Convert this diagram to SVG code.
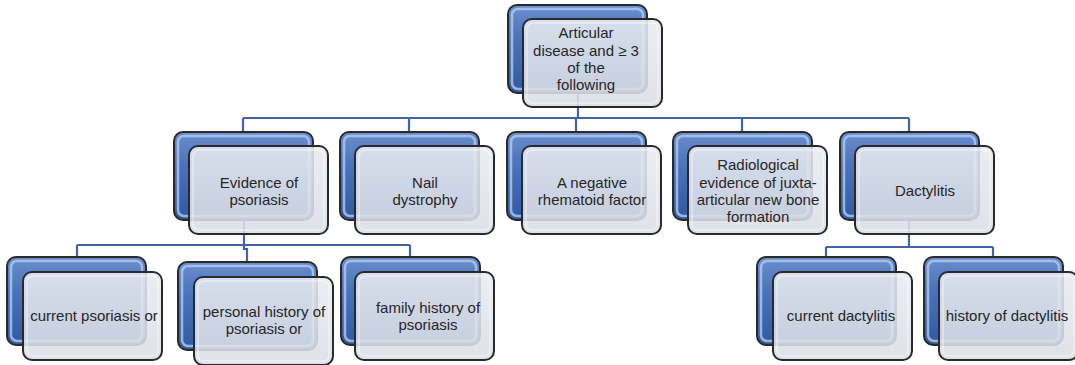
<svg xmlns="http://www.w3.org/2000/svg" width="1075" height="365" viewBox="0 0 1075 365">
<defs>
<linearGradient id="gBack" x1="0" y1="0" x2="0" y2="1">
<stop offset="0" stop-color="#6a8fcf"/>
<stop offset="0.4" stop-color="#4a71b9"/>
<stop offset="1" stop-color="#3159a2"/>
</linearGradient>
<linearGradient id="gFront" x1="0" y1="0" x2="0" y2="1">
<stop offset="0" stop-color="#e8ebf1"/>
<stop offset="1" stop-color="#dadee6"/>
</linearGradient>
<style>
.back{fill:url(#gBack);stroke:#2a2a2a;stroke-width:2}
.bhi{fill:none;stroke:#b3cbee;stroke-width:2.5;opacity:0.8}
.front{fill:url(#gFront);fill-opacity:0.88;stroke:#2a2a2a;stroke-width:2}
.fhi{fill:none;stroke:#ffffff;stroke-width:1.5;opacity:0.45}
.conn{fill:none;stroke:#4263a6;stroke-width:2.2}
.t{font-family:"Liberation Sans",Arial,sans-serif;font-size:15px;fill:#262626;text-anchor:middle}
</style>
</defs>
<rect width="1075" height="365" fill="#ffffff"/>
<g id="connectors" class="conn">
<path d="M578 50 V118"/>
<path d="M243 118 H909"/>
<path d="M243 118 V176 M409 118 V176 M576 118 V176 M742 118 V176 M909 118 V176"/>
<path d="M244 176 V249 H247 V306"/>
<path d="M77 245 H410"/>
<path d="M77 245 V301 M410 245 V301"/>
<path d="M909 176 V247"/>
<path d="M826 247 H993"/>
<path d="M826 247 V301 M993 247 V301"/>
</g>
<g id="n-root">
<rect class="back" x="508" y="5" width="139" height="88" rx="9"/>
<rect class="bhi" x="512" y="9" width="131" height="80" rx="6"/>
<rect class="front" x="523" y="19" width="139" height="88" rx="9"/>
<rect class="fhi" x="527" y="23" width="131" height="80" rx="6"/>
<text class="t" x="586" y="38">Articular</text>
<text class="t" x="586" y="56">disease and ≥ 3</text>
<text class="t" x="586" y="73">of the</text>
<text class="t" x="586" y="90">following</text>
</g>
<g id="n-evidence">
<rect class="back" x="174" y="132" width="139" height="88" rx="9"/>
<rect class="bhi" x="178" y="136" width="131" height="80" rx="6"/>
<rect class="front" x="189" y="146" width="139" height="88" rx="9"/>
<rect class="fhi" x="193" y="150" width="131" height="80" rx="6"/>
<text class="t" x="259" y="188">Evidence of</text>
<text class="t" x="259" y="205">psoriasis</text>
</g>
<g id="n-nail">
<rect class="back" x="340" y="132" width="139" height="88" rx="9"/>
<rect class="bhi" x="344" y="136" width="131" height="80" rx="6"/>
<rect class="front" x="355" y="146" width="139" height="88" rx="9"/>
<rect class="fhi" x="359" y="150" width="131" height="80" rx="6"/>
<text class="t" x="425" y="188">Nail</text>
<text class="t" x="425" y="205">dystrophy</text>
</g>
<g id="n-rf">
<rect class="back" x="507" y="132" width="139" height="88" rx="9"/>
<rect class="bhi" x="511" y="136" width="131" height="80" rx="6"/>
<rect class="front" x="522" y="146" width="139" height="88" rx="9"/>
<rect class="fhi" x="526" y="150" width="131" height="80" rx="6"/>
<text class="t" x="592" y="188">A negative</text>
<text class="t" x="592" y="205">rhematoid factor</text>
</g>
<g id="n-radio">
<rect class="back" x="673" y="132" width="139" height="88" rx="9"/>
<rect class="bhi" x="677" y="136" width="131" height="80" rx="6"/>
<rect class="front" x="688" y="146" width="139" height="88" rx="9"/>
<rect class="fhi" x="692" y="150" width="131" height="80" rx="6"/>
<text class="t" x="758" y="170">Radiological</text>
<text class="t" x="758" y="188">evidence of juxta-</text>
<text class="t" x="758" y="205">articular new bone</text>
<text class="t" x="758" y="222">formation</text>
</g>
<g id="n-dact">
<rect class="back" x="840" y="132" width="139" height="88" rx="9"/>
<rect class="bhi" x="844" y="136" width="131" height="80" rx="6"/>
<rect class="front" x="855" y="146" width="139" height="88" rx="9"/>
<rect class="fhi" x="859" y="150" width="131" height="80" rx="6"/>
<text class="t" x="925" y="196">Dactylitis</text>
</g>
<g id="n-current-psoriasis">
<rect class="back" x="7" y="257" width="139" height="88" rx="9"/>
<rect class="bhi" x="11" y="261" width="131" height="80" rx="6"/>
<rect class="front" x="23" y="272" width="139" height="88" rx="9"/>
<rect class="fhi" x="27" y="276" width="131" height="80" rx="6"/>
<text class="t" x="94" y="321">current psoriasis or</text>
</g>
<g id="n-personal">
<rect class="back" x="178" y="262" width="139" height="88" rx="9"/>
<rect class="bhi" x="182" y="266" width="131" height="80" rx="6"/>
<rect class="front" x="194" y="277" width="139" height="88" rx="9"/>
<rect class="fhi" x="198" y="281" width="131" height="80" rx="6"/>
<text class="t" x="264" y="317">personal history of</text>
<text class="t" x="264" y="334">psoriasis or</text>
</g>
<g id="n-family">
<rect class="back" x="341" y="257" width="139" height="88" rx="9"/>
<rect class="bhi" x="345" y="261" width="131" height="80" rx="6"/>
<rect class="front" x="355" y="272" width="139" height="88" rx="9"/>
<rect class="fhi" x="359" y="276" width="131" height="80" rx="6"/>
<text class="t" x="428" y="313">family history of</text>
<text class="t" x="428" y="330">psoriasis</text>
</g>
<g id="n-current-dact">
<rect class="back" x="757" y="257" width="139" height="88" rx="9"/>
<rect class="bhi" x="761" y="261" width="131" height="80" rx="6"/>
<rect class="front" x="773" y="272" width="139" height="88" rx="9"/>
<rect class="fhi" x="777" y="276" width="131" height="80" rx="6"/>
<text class="t" x="841" y="321">current dactylitis</text>
</g>
<g id="n-history-dact">
<rect class="back" x="924" y="257" width="139" height="88" rx="9"/>
<rect class="bhi" x="928" y="261" width="131" height="80" rx="6"/>
<rect class="front" x="939" y="272" width="139" height="88" rx="9"/>
<rect class="fhi" x="943" y="276" width="131" height="80" rx="6"/>
<text class="t" x="1007" y="321">history of dactylitis</text>
</g>
</svg>
